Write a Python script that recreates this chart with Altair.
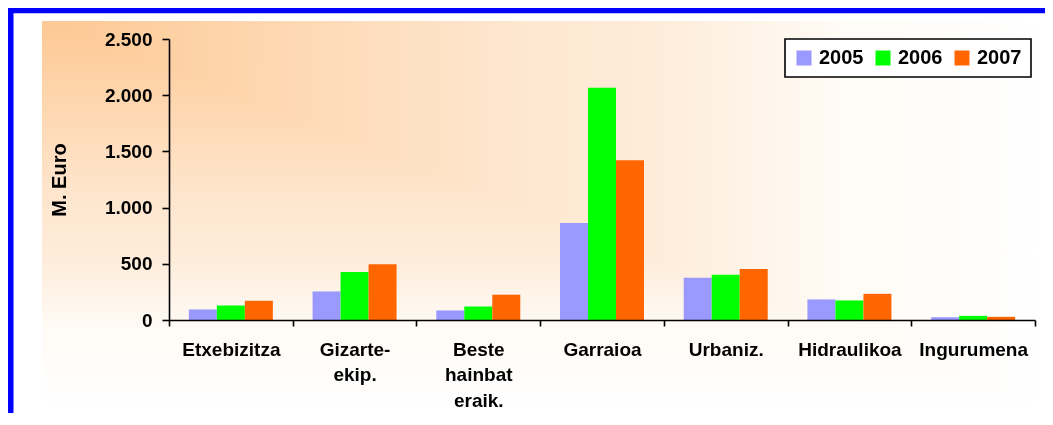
import json
import altair as alt
import pandas as pd

categories = ["Etxebizitza", "Gizarte-ekip.", "Beste hainbat eraik.", "Garraioa",
              "Urbaniz.", "Hidraulikoa", "Ingurumena"]
tick_label_lines = [["Etxebizitza"], ["Gizarte-", "ekip."], ["Beste", "hainbat", "eraik."],
                    ["Garraioa"], ["Urbaniz."], ["Hidraulikoa"], ["Ingurumena"]]
years = ["2005", "2006", "2007"]
values_2005 = [94, 254, 85, 863, 376, 183, 25]
values_2006 = [129, 426, 120, 2066, 403, 174, 37]
values_2007 = [171, 495, 225, 1422, 453, 233, 28]
year_colors = ["#9999FF", "#00FF00", "#FF6600"]
y_ticks = [0, 500, 1000, 1500, 2000, 2500]

rows = []
for yr, vals in zip(years, [values_2005, values_2006, values_2007]):
    for c, v in zip(categories, vals):
        rows.append({"cat": c, "year": yr, "value": v})
df = pd.DataFrame(rows)

label_map = {c: lines for c, lines in zip(categories, tick_label_lines)}
x_label_expr = json.dumps(label_map) + "[datum.value]"

W, H = 866, 281
FONT = "Liberation Sans"

grad_stops = [
    ("#FDC893", 0), ("#FEDEBE", 0.33), ("#FEE8D2", 0.5), ("#FEEBD8", 0.6),
    ("#FFFBF6", 0.8), ("#FFFFFF", 1),
]


def grad(x2, y2):
    return alt.LinearGradient(
        gradient="linear", x1=0, y1=0, x2=x2, y2=y2,
        stops=[alt.GradientStop(color=c, offset=o) for c, o in grad_stops],
    )


bg_pos = dict(x=alt.value(-127), x2=alt.value(875), y=alt.value(-18), y2=alt.value(368))
one = pd.DataFrame({"k": [0]})

bg_v = alt.Chart(one).mark_rect(color=grad(0, 1)).encode(**bg_pos)
bg_h = alt.Chart(one).mark_rect(color=grad(1, 0), blend="lighten").encode(**bg_pos)

frame = alt.Chart(one).mark_rect(
    filled=False, stroke="#0000FF", strokeWidth=5.5
).encode(
    x=alt.value(-158.25), x2=alt.value(2000), y=alt.value(-28.5), y2=alt.value(1000)
)

bars = alt.Chart(df).mark_bar().encode(
    x=alt.X("cat:N", sort=categories, title=None,
            scale=alt.Scale(paddingInner=0, paddingOuter=0),
            axis=alt.Axis(labelAngle=0, tickBand="extent", tickSize=6, labelPadding=14,
                          labelExpr=x_label_expr, labelLineHeight=25.5,
                          labelFontSize=19, labelFontWeight="bold", zindex=1)),
    xOffset=alt.XOffset("year:N", sort=years,
                        scale=alt.Scale(paddingInner=0, paddingOuter=0.709)),
    y=alt.Y("value:Q", title="M. Euro",
            scale=alt.Scale(domain=[0, 2500], nice=False),
            axis=alt.Axis(values=y_ticks, tickSize=7, labelPadding=10,
                          labelExpr="replace(format(datum.value, ','), ',', '.')",
                          labelFontSize=19, labelFontWeight="bold",
                          titleFontSize=20, titleFontWeight="bold", titlePadding=35,
                          grid=False, zindex=1)),
    color=alt.Color("year:N", sort=years,
                    scale=alt.Scale(domain=years, range=year_colors),
                    legend=alt.Legend(title=None, orient="none", legendX=616, legendY=0,
                                      direction="horizontal", zindex=1)),
)

chart = alt.layer(bg_v, bg_h, frame, bars).properties(
    width=W, height=H,
    autosize=alt.AutoSizeParams(type="none"),
    padding={"left": 161, "top": 31, "right": 10, "bottom": 93},
    background="#FFFFFF",
).configure_view(stroke=None).configure(font=FONT).configure_axis(
    domainColor="#000000", domainWidth=1.6, tickColor="#000000", tickWidth=1.6,
    labelColor="#000000", titleColor="#000000",
).configure_legend(
    symbolType="square", symbolSize=225, symbolStrokeWidth=0, symbolOpacity=1,
    labelFontSize=20, labelFontWeight="bold", labelColor="#000000", labelOffset=5,
    columnPadding=9, padding=9, strokeColor="#000000", fillColor="#FFFFFF",
    strokeWidth=1.6,
)

chart.save("out.html", embed_options={"renderer": "svg", "actions": False})
